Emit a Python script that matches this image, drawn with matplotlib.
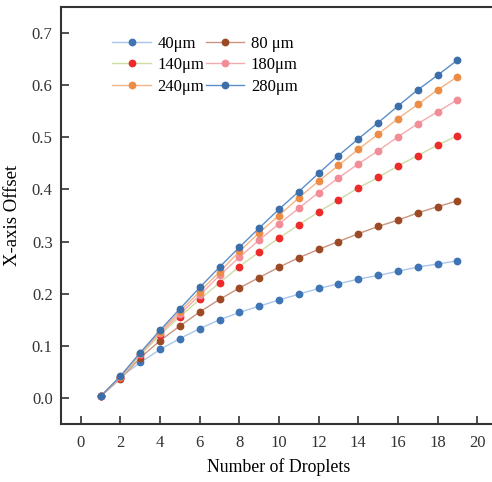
import numpy as np
import matplotlib
matplotlib.use("Agg")
import matplotlib.pyplot as plt

plt.rcParams['font.family'] = ['Liberation Serif', 'DejaVu Serif']

droplets = np.arange(1, 20)

off_40 = [0.003, 0.040, 0.068, 0.093, 0.114, 0.133, 0.150, 0.164, 0.176, 0.188,
          0.199, 0.210, 0.219, 0.228, 0.235, 0.243, 0.251, 0.257, 0.263]
off_80 = [0.003, 0.037, 0.077, 0.110, 0.138, 0.165, 0.189, 0.211, 0.231, 0.251,
          0.269, 0.285, 0.300, 0.315, 0.329, 0.341, 0.355, 0.367, 0.378]
off_140 = [0.003, 0.039, 0.082, 0.121, 0.156, 0.189, 0.221, 0.252, 0.280, 0.307,
           0.332, 0.357, 0.380, 0.403, 0.423, 0.445, 0.465, 0.485, 0.503]
off_180 = [0.003, 0.040, 0.085, 0.124, 0.161, 0.197, 0.235, 0.270, 0.303, 0.334,
           0.364, 0.394, 0.422, 0.449, 0.474, 0.501, 0.526, 0.549, 0.572]
off_240 = [0.003, 0.041, 0.086, 0.127, 0.166, 0.204, 0.242, 0.281, 0.317, 0.350,
           0.384, 0.416, 0.446, 0.477, 0.506, 0.536, 0.563, 0.591, 0.616]
off_280 = [0.003, 0.042, 0.087, 0.130, 0.171, 0.212, 0.251, 0.289, 0.326, 0.362,
           0.396, 0.431, 0.465, 0.497, 0.528, 0.560, 0.591, 0.619, 0.648]

labels = ['40μm', '80 μm', '140μm', '180μm', '240μm', '280μm']
series = [off_40, off_80, off_140, off_180, off_240, off_280]
line_colors = ['#a9c6ea', '#c99480', '#cddca2', '#f5a9b0', '#f5b486', '#5b8fca']
marker_colors = ['#3f74b5', '#9c4a26', '#ee2b2b', '#f28c96', '#ec8c45', '#3c6faa']

fig = plt.figure(figsize=(4.92, 4.82), dpi=100)
ax = fig.add_axes([61 / 492, 1 - 424 / 482, 436 / 492, 417 / 482])

handles = []
for y, lab, lc, mc in zip(series, labels, line_colors, marker_colors):
    h, = ax.plot(droplets, y, color=lc, lw=1.0, marker='o', ms=4.6,
                 mfc=mc, mec=mc, label=lab)
    handles.append(h)

ax.set_xlim(-1, 21)
ax.set_ylim(-0.05, 0.75)
ax.set_xticks(np.arange(0, 21, 2))
ax.set_yticks(np.arange(0, 0.71, 0.1))
ax.set_yticklabels(['%.1f' % v for v in np.arange(0, 0.71, 0.1)])
ax.tick_params(direction='in', length=6, width=1.2, labelsize=12, colors='#333333')
ax.tick_params(axis='x', pad=8)
ax.tick_params(axis='y', pad=6)
for s in ['left', 'bottom', 'top']:
    ax.spines[s].set_linewidth(1.5)
    ax.spines[s].set_color('#333333')
ax.spines['right'].set_visible(False)

ax.set_xlabel('Number of Droplets', fontsize=12.8, labelpad=5)
ax.set_ylabel('X-axis Offset', fontsize=13.5, labelpad=8)

order = [0, 2, 4, 1, 3, 5]
ax.legend([handles[i] for i in order], [labels[i] for i in order], ncol=2,
          loc='upper left', bbox_to_anchor=(0.095, 0.955), frameon=False,
          fontsize=12, handlelength=2.3, columnspacing=0.1, handletextpad=0.4,
          labelspacing=0.33, borderaxespad=0.2)

fig.savefig('out.png', dpi=100)
